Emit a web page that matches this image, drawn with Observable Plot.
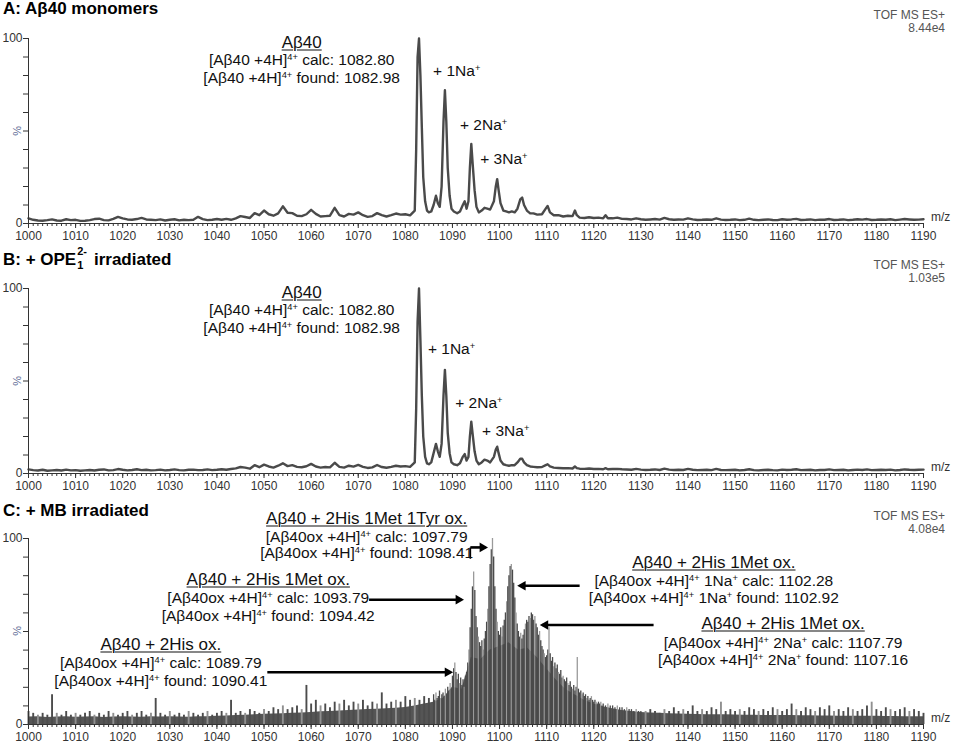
<!DOCTYPE html>
<html><head><meta charset="utf-8">
<script src="https://cdn.jsdelivr.net/npm/d3@7"></script>
<script src="https://cdn.jsdelivr.net/npm/@observablehq/plot@0.6"></script>
<style>
body{margin:0;background:#fff;font-family:"Liberation Sans",Arial,sans-serif;}
#wrap{position:relative;width:957px;height:744px;overflow:hidden;background:#fff;}
.panel{position:absolute;left:0;width:957px;}
.panel svg{position:absolute;left:0;top:0;overflow:visible;}
.ttl{position:absolute;left:3px;font-weight:bold;font-size:17px;line-height:18px;white-space:nowrap;color:#000;}
.ss{position:relative;display:inline-block;width:13px;height:12px;}
.ss .sp{position:absolute;left:1px;top:-7px;font-size:11px;line-height:11px;}
.ss .sb{position:absolute;left:1px;top:7px;font-size:11px;line-height:11px;}
.tof{position:absolute;right:12px;text-align:right;font-size:12px;color:#555;line-height:13px;white-space:nowrap;}
.ann{position:absolute;white-space:nowrap;font-size:15.5px;color:#111;line-height:1;transform:translate(-50%,-50%);}
.ann.h{font-size:17px;text-decoration:underline;text-underline-offset:2px;text-decoration-thickness:1px;}
.ann.l{transform:translate(0,-50%);}
.ann sup{font-size:0.6em;vertical-align:0.6em;line-height:0;}
.pct{position:absolute;font-size:11px;color:#5b6a94;transform:translate(-50%,-50%) rotate(90deg);}
.mz{position:absolute;font-size:12px;color:#333;transform:translate(0,-50%);}
</style>
</head><body>
<div id="wrap"></div>
<script>
// ---------------- data ----------------
// Panel A: A-beta40 monomers (relative intensity %)
const specA_low = [ // m/z 1000 .. 1081, step 1
 2.8,2.0,1.6,1.5,1.8,2.2,1.6,1.5,2.3,1.8,
 2.0,1.4,1.5,1.8,2.4,2.6,1.8,1.7,2.5,3.6,
 2.8,2.2,2.0,2.4,3.0,2.2,2.0,1.8,2.2,1.6,
 2.0,2.3,1.7,2.0,1.8,2.0,3.6,2.4,1.8,2.0,
 2.4,2.0,2.5,2.0,2.8,4.0,3.5,3.0,5.6,4.5,
 7.0,5.0,4.2,5.5,9.3,5.8,5.6,4.2,4.0,5.0,
 7.4,5.2,3.8,4.0,4.2,8.5,4.5,3.8,5.2,4.8,
 6.0,4.5,3.6,4.0,5.6,4.5,3.8,4.5,5.4,4.8,
 5.0,4.4];
const mzPeak = [1082,1082.3,1082.6,1082.9,1083.2,1083.5,1083.8,1084.2,1084.6,1085,
 1085.5,1086,1086.5,1086.9,1087.3,1087.7,1088.1,1088.4,1088.7,1089,
 1089.4,1089.8,1090.3,1091,1091.6,1092.2,1092.6,1093,1093.4,1093.7,
 1094,1094.3,1094.7,1095.1,1095.6,1096.2,1096.8,1097.4,1098,1098.8,
 1099.2,1099.5,1099.8,1100.2,1100.8,1101.4,1102,1102.6,1103.2,1103.8,
 1104.4,1104.8,1105.2,1105.8,1106.5,1107.2,1108,1109,1109.8,1110.2,
 1110.7,1111.5,1112.5,1113.5,1114.5,1115.5,1116,1116.4,1117,1118,
 1119,1120,1121,1122,1122.5,1123,1124,1125];
const specA_peak = [7,40,90,100,80,52,25,12,7,6,
 6.5,10,15,11,9,20,55,72,55,30,
 15,8,6.5,5.5,6.5,10,12,8,12,30,
 43,32,18,9,6,7,8.5,8,7.5,12,
 20,24,18,11,7,6.5,6,6.5,6,8,
 13,14,10,7,5.5,5.5,4.8,5,8,9.5,
 6,4.5,4.5,3.8,4.2,4,7,4.5,3.2,3.0,
 3.4,3.0,3.2,2.8,4.5,2.8,2.8,3.2];
const specA_high = [ // m/z 1126 .. 1190, step 1
 2.5,2.4,2.2,2.8,2.3,2.0,2.2,2.4,2.1,3.0,
 2.3,2.0,2.2,2.1,2.8,2.2,1.9,2.0,2.2,2.0,
 2.8,2.1,1.9,2.0,2.2,1.8,2.0,2.6,2.0,1.8,
 2.0,2.2,1.9,1.8,2.3,2.0,2.2,2.5,1.9,2.0,
 2.2,1.8,2.1,2.0,2.4,1.9,2.0,2.2,1.8,2.0,
 2.3,2.1,2.4,1.9,2.0,2.2,2.0,2.3,1.8,2.1,
 2.4,2.2,2.0,2.1,2.3];

// Panel B: + OPE1 2- irradiated
const specB_low = [
 2.2,1.8,1.6,2.0,1.5,1.7,1.9,1.6,2.1,1.7,
 1.8,1.5,1.7,1.9,1.6,2.0,2.2,1.7,1.8,2.4,
 2.0,1.7,1.9,2.3,1.8,2.0,1.7,1.8,2.1,1.7,
 1.9,2.2,1.8,1.7,2.0,2.1,1.8,1.9,2.2,1.8,
 2.0,2.3,2.0,2.4,2.8,3.5,3.2,2.6,4.5,3.4,
 4.8,3.8,3.2,4.2,5.5,4.0,4.5,3.6,3.4,3.9,
 5.2,3.8,3.2,3.5,3.3,5.8,3.6,3.2,4.2,3.7,
 4.6,3.6,3.0,3.3,4.6,3.5,3.1,3.6,4.2,3.8,
 4.0,3.6];
const specB_peak = [6,35,82,100,72,42,20,9,5.5,5,
 6,11,16,12,9,16,42,56,42,22,
 11,6,5,4.5,5.5,9,10.5,7,9,20,
 28,21,12,7,5,6,7.5,7,6,9,
 13,14.5,11,7,5,4.5,4.2,4.5,4.5,6,
 8,8,6,4.5,3.8,3.6,3.4,3.5,4.5,5,
 3.8,3.2,3.0,2.8,2.9,2.7,3.8,2.9,2.6,2.5,
 2.7,2.4,2.5,2.3,2.9,2.3,2.4,2.5];
const specB_high = [
 2.3,2.2,2.0,2.5,2.1,1.9,2.0,2.2,1.9,2.6,
 2.1,1.9,2.0,1.9,2.5,2.0,1.8,1.9,2.0,1.8,
 2.5,1.9,1.8,1.9,2.0,1.7,1.9,2.3,1.8,1.7,
 1.9,2.0,1.8,1.7,2.1,1.9,2.0,2.3,1.8,1.9,
 2.0,1.7,1.9,1.9,2.2,1.8,1.9,2.0,1.7,1.9,
 2.1,1.9,2.2,1.8,1.9,2.0,1.9,2.1,1.7,1.9,
 2.2,2.0,1.9,2.0,2.1];

// Panel C: + MB irradiated (stick spectrum)
const cNoiseLow = [ // m/z 1000 .. 1085, step 1
 7,6,5,6,5,16,6,5,7,5,
 6,5,6,7,5,6,5,7,6,5,
 6,7,5,6,7,5,6,14,6,5,
 7,5,6,5,7,6,5,6,7,5,
 6,7,6,13,6,7,6,8,7,6,
 8,7,9,8,10,8,9,10,8,21,
 11,13,10,11,9,12,11,13,10,12,
 11,13,10,12,11,17,11,12,13,12,
 15,13,14,13,15,14];
const cPeak = [ // m/z 1086 .. 1121.75, step 0.25
 16,13,17,14,15,18,14,16,
 17,15,19,16,20,18,22,19,
 26,30,33,28,24,27,22,25,
 21,24,20,26,28,33,40,52,
 62,74,82,72,58,52,47,44,
 42,45,40,46,50,55,62,74,
 86,94,100,90,74,62,55,50,
 48,52,47,53,56,60,66,74,
 80,85,86,83,76,68,60,54,
 50,47,49,46,48,51,54,56,
 55,58,57,60,59,56,58,54,
 52,48,50,45,42,40,38,36,
 37,40,52,38,34,36,31,33,
 30,32,28,27,29,25,26,24,
 23,25,22,21,23,20,19,21,
 18,20,36,19,17,18,16,17,
 15,16,14,15,13,14,15,13,
 12,13,12,11,12,11,12,10];
const cTail = [ // m/z 1122 .. 1130, step 0.5
 11,10,11,10,10,9,10,9,9,8,9,8,8,7,8,7,7];
const cNoiseHigh = [ // m/z 1131 .. 1190, step 1
 7,8,7,6,8,7,9,7,8,7,
 10,7,8,7,9,8,12,7,8,7,
 8,7,9,8,7,8,7,9,8,7,
 8,11,8,7,9,8,7,9,8,10,
 7,8,7,9,8,7,8,10,12,8,
 7,9,8,7,8,9,7,8,7,6];
const cBody = [ // m/z 1000 .. 1190, step 2 (solid grey fill)
 4,4.2,3.8,4,4.2,3.9,4,4.1,3.8,4, 4.2,4,3.9,4.1,4,4.2,4,3.9,4.1,4.2,
 4.4,4.6,4.8,5,5.2,5.5,5.6,5.8,6,6.2, 6.5,6.8,7,7.2,7.5,7.8,8,8.2,8.5,8.8,
 9.2,10,11,12,14,20,19,36,35,40, 42,44,40,41,36,30,24,19,16,13,
 11,9.5,8.5,7.5,7,6.5,6.2,6,5.8,5.6, 5.5,5.4,5.3,5.2,5.2,5.1,5,5,4.9,4.9,
 4.8,4.8,4.7,4.7,4.6,4.6,4.5,4.5,4.4,4.4,4.4,4.3,4.3,4.2,4.2,4.2];

const majorTicks = d3.range(1000, 1191, 10);
const minorTicks = d3.range(1000, 1191, 1);
const yTicks = d3.range(0, 101, 10);

// arrows in panel C (m/z, %)
const arrowX1 = [1050.7, 1072.3, 1093.8, 1117.0, 1132.7];
const arrowX2 = [1089.6, 1091.9, 1097.0, 1104.3, 1109.1];
const arrowY  = [28.1, 67.1, 95.2, 74.6, 53.5];

// ---------------- helpers ----------------
const toSeries = (start, step, vals) => vals.map((v, i) => ({mz: start + i * step, v}));
const specA = [...toSeries(1000, 1, specA_low), ...mzPeak.map((m, i) => ({mz: m, v: specA_peak[i]})), ...toSeries(1126, 1, specA_high)];
const specB = [...toSeries(1000, 1, specB_low), ...mzPeak.map((m, i) => ({mz: m, v: specB_peak[i]})), ...toSeries(1126, 1, specB_high)];
const noiseC = [...toSeries(1000, 1, cNoiseLow), ...toSeries(1131, 1, cNoiseHigh)];
const peakC = [...toSeries(1086, 0.25, cPeak), ...toSeries(1122, 0.5, cTail)];
const bodyC = toSeries(1000, 2, cBody);
const arrows = arrowX1.map((x1, i) => ({x1, x2: arrowX2[i], y: arrowY[i]}));

const wrap = document.getElementById("wrap");

function axes() {
  return [
    Plot.ruleY([0], {stroke: "#333", strokeWidth: 1}),
    Plot.ruleX([1000], {stroke: "#333", strokeWidth: 1}),
    Plot.axisX({ticks: minorTicks, tickSize: 3, tickFormat: () => "", label: null}),
    Plot.axisX({ticks: majorTicks, tickSize: 5, tickPadding: 3, tickFormat: d => String(d), label: null, fontSize: 12}),
    Plot.axisY({ticks: yTicks, tickSize: 5, tickPadding: 1, tickFormat: d => (d === 0 || d === 100) ? String(d) : "", label: null, fontSize: 12})
  ];
}

function buildPanel(cfg) {
  const div = document.createElement("div");
  div.className = "panel";
  div.style.top = cfg.top + "px";
  div.style.height = cfg.height + "px";
  const plot = Plot.plot({
    width: 957, height: cfg.height,
    marginLeft: 28, marginRight: 34, marginTop: 38, marginBottom: cfg.marginBottom,
    x: {domain: [1000, 1190]},
    y: {domain: [0, 100]},
    style: {fontFamily: '"Liberation Sans", Arial, sans-serif', fontSize: "12px", color: "#333", background: "transparent"},
    marks: [...cfg.marks, ...axes(), ...(cfg.extra || [])]
  });
  div.appendChild(plot);
  const sx = plot.scale("x"), sy = plot.scale("y");
  const add = (cls, html, x, y) => {
    const e = document.createElement("div");
    e.className = cls; e.innerHTML = html;
    e.style.left = x + "px"; e.style.top = y + "px";
    div.appendChild(e);
  };
  add("ttl", cfg.title, 3, cfg.titleTop);
  const t = document.createElement("div");
  t.className = "tof"; t.style.top = cfg.tofTop + "px";
  t.innerHTML = "TOF MS ES+<br>" + cfg.scaleText;
  div.appendChild(t);
  add("pct", "%", 16.5, sy.apply(50));
  add("mz", "m/z", sx.apply(1190) + 8, sy.apply(0) - 6);
  for (const a of cfg.ann) {
    add("ann" + (a.cls ? " " + a.cls : ""), a.html, sx.apply(a.mz), sy.apply(a.pct));
  }
  wrap.appendChild(div);
}

const lineStyle = {x: "mz", y: "v", stroke: "#4a4a4a", strokeWidth: 2.4, strokeLinejoin: "round"};

buildPanel({
  top: 0, height: 250, marginBottom: 27, titleTop: 0, tofTop: 9, scaleText: "8.44e4",
  title: "A: Aβ40 monomers",
  marks: [Plot.line(specA, lineStyle)],
  ann: [
    {mz: 1058.1, pct: 97.8, cls: "h", html: "Aβ40"},
    {mz: 1058.1, pct: 87.9, html: "[Aβ40 +4H]<sup>4+</sup> calc: 1082.80"},
    {mz: 1058.1, pct: 78.2, html: "[Aβ40 +4H]<sup>4+</sup> found: 1082.98"},
    {mz: 1086.0, pct: 82.0, cls: "l", html: "+ 1Na<sup>+</sup>"},
    {mz: 1091.7, pct: 52.8, cls: "l", html: "+ 2Na<sup>+</sup>"},
    {mz: 1096.0, pct: 34.4, cls: "l", html: "+ 3Na<sup>+</sup>"}
  ]
});

buildPanel({
  top: 250, height: 250, marginBottom: 27, titleTop: 1, tofTop: 9, scaleText: "1.03e5",
  title: 'B: + OPE<span class="ss"><span class="sp">2-</span><span class="sb">1</span></span> irradiated',
  marks: [Plot.line(specB, lineStyle)],
  ann: [
    {mz: 1058.1, pct: 97.8, cls: "h", html: "Aβ40"},
    {mz: 1058.1, pct: 87.9, html: "[Aβ40 +4H]<sup>4+</sup> calc: 1082.80"},
    {mz: 1058.1, pct: 78.2, html: "[Aβ40 +4H]<sup>4+</sup> found: 1082.98"},
    {mz: 1084.9, pct: 66.9, cls: "l", html: "+ 1Na<sup>+</sup>"},
    {mz: 1090.7, pct: 37.7, cls: "l", html: "+ 2Na<sup>+</sup>"},
    {mz: 1096.4, pct: 22.5, cls: "l", html: "+ 3Na<sup>+</sup>"}
  ]
});

const rightArrows = arrows.filter(a => a.x2 > a.x1), leftArrows = arrows.filter(a => a.x2 < a.x1);
buildPanel({
  top: 500, height: 244, marginBottom: 20, titleTop: 2, tofTop: 10, scaleText: "4.08e4",
  title: "C: + MB irradiated",
  marks: [
    Plot.areaY(bodyC, {x: "mz", y: "v", fill: "#555"}),
    Plot.ruleX(noiseC, {x: "mz", y1: 0, y2: "v", stroke: (d, i) => i % 4 === 2 ? "#909090" : "#4c4c4c", strokeWidth: 1.9}),
    Plot.ruleX(peakC, {x: "mz", y1: 0, y2: "v", stroke: (d, i) => i % 4 === 2 ? "#9a9a9a" : "#4a4a4a", strokeWidth: 1.3})
  ],
  extra: [
    Plot.link(arrows, {x1: "x1", x2: "x2", y1: "y", y2: "y", stroke: "#000", strokeWidth: 2.6}),
    Plot.link([{x: arrowX1[2], y1: arrowY[2], y2: 89.1}], {x1: "x", x2: "x", y1: "y1", y2: "y2", stroke: "#000", strokeWidth: 1.6}),
    Plot.dot(rightArrows, {x: "x2", y: "y", symbol: "triangle", r: 3.6, rotate: 90, fill: "#000", dx: -3}),
    Plot.dot(leftArrows, {x: "x2", y: "y", symbol: "triangle", r: 3.6, rotate: -90, fill: "#000", dx: 3})
  ],
  ann: [
    {mz: 1071.9, pct: 110.6, cls: "h", html: "Aβ40 + 2His 1Met 1Tyr ox."},
    {mz: 1071.9, pct: 100.6, html: "[Aβ40ox +4H]<sup>4+</sup> calc: 1097.79"},
    {mz: 1071.9, pct: 91.8, html: "[Aβ40ox +4H]<sup>4+</sup> found: 1098.41"},
    {mz: 1051.0, pct: 77.7, cls: "h", html: "Aβ40 + 2His 1Met ox."},
    {mz: 1051.0, pct: 67.5, html: "[Aβ40ox +4H]<sup>4+</sup> calc: 1093.79"},
    {mz: 1051.0, pct: 58.0, html: "[Aβ40ox +4H]<sup>4+</sup> found: 1094.42"},
    {mz: 1028.2, pct: 42.9, cls: "h", html: "Aβ40 + 2His ox."},
    {mz: 1028.2, pct: 32.7, html: "[Aβ40ox +4H]<sup>4+</sup> calc: 1089.79"},
    {mz: 1028.2, pct: 23.2, html: "[Aβ40ox +4H]<sup>4+</sup> found: 1090.41"},
    {mz: 1145.6, pct: 87.1, cls: "h", html: "Aβ40 + 2His 1Met ox."},
    {mz: 1145.6, pct: 76.9, html: "[Aβ40ox +4H]<sup>4+</sup> 1Na<sup>+</sup> calc: 1102.28"},
    {mz: 1145.6, pct: 67.5, html: "[Aβ40ox +4H]<sup>4+</sup> 1Na<sup>+</sup> found: 1102.92"},
    {mz: 1160.3, pct: 54.1, cls: "h", html: "Aβ40 + 2His 1Met ox."},
    {mz: 1160.3, pct: 43.6, html: "[Aβ40ox +4H]<sup>4+</sup> 2Na<sup>+</sup> calc: 1107.79"},
    {mz: 1160.3, pct: 34.4, html: "[Aβ40ox +4H]<sup>4+</sup> 2Na<sup>+</sup> found: 1107.16"}
  ]
});
</script>
</body></html>
